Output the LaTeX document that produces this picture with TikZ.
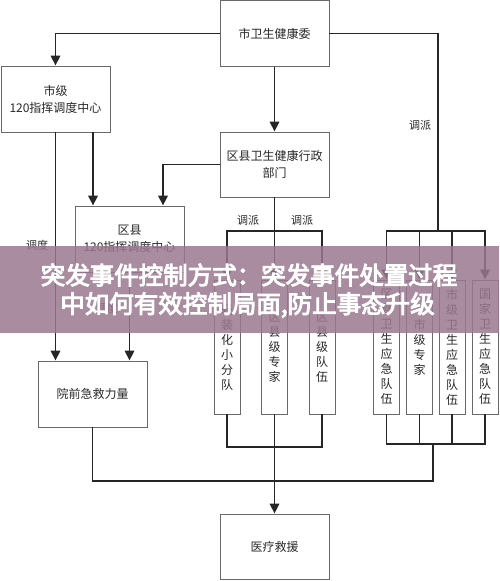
\documentclass[tikz,border=0pt]{standalone}
\usepackage{fontspec}
\newfontfamily\cjk{Noto Sans CJK SC}
\newfontfamily\cjkb{Noto Sans CJK SC}[FakeBold=4]
\usetikzlibrary{arrows.meta}
\definecolor{boxline}{RGB}{105,105,105}
\definecolor{txt}{RGB}{40,40,40}
\definecolor{banner}{RGB}{155,120,143}
\begin{document}
\begin{tikzpicture}[x=1pt,y=-1pt,
  box/.style={draw=boxline,line width=0.9pt,fill=white,inner sep=0pt,text=txt,
    font=\cjk\fontsize{12}{17}\selectfont,align=center,minimum width=109pt,minimum height=66pt},
  vbox/.style={box,minimum width=26pt,minimum height=134pt,font=\cjk\fontsize{12}{15}\selectfont},
  conn/.style={line width=1.7pt,draw=black!85},
  arr/.style={conn,-{Triangle[width=9.5pt,length=10pt]}},
  lbl/.style={text=txt,font=\cjk\fontsize{11}{13}\selectfont,inner sep=0pt},
  bantext/.style={text=white,font=\cjkb\fontsize{24.5}{26}\selectfont,inner sep=0pt}
]
\useasboundingbox (0,0) rectangle (499,581);
\fill[white] (0,0) rectangle (499,581);

% boxes
\node[box] (wj) at (274.5,33.5) {市卫生健康委};
\node[box] (shiji) at (55.5,99) {市级\\120指挥调度中心};
\node[box,minimum height=65pt] (qxwj) at (274.5,164.5) {区县卫生健康行政\\部门};
\node[box] (qx120) at (129.5,239) {区县\\120指挥调度中心};
\node[box] (yq) at (92.5,394) {院前急救力量};
\node[box,minimum height=65pt] (yl) at (274.5,546.5) {医疗救援};

\node[vbox] (l1) at (227,347) {轻\\装\\化\\小\\分\\队};
\node[vbox] (l2) at (274.5,347) {区\\县\\级\\专\\家};
\node[vbox] (l3) at (322,347) {区\\县\\级\\队\\伍};
\node[vbox] (r1) at (386.5,347) {区\\县\\卫\\生\\应\\急\\队\\伍};
\node[vbox] (r2) at (419.5,347) {市\\级\\专\\家};
\node[vbox] (r3) at (452,347) {市\\级\\卫\\生\\应\\急\\队\\伍};
\node[vbox] (r4) at (485,347) {国\\家\\卫\\生\\应\\急\\队\\伍};

% junction coordinates
\coordinate (rb) at (438,231);
\coordinate (lb) at (274.5,231);
\coordinate (lm) at (274.5,447);
\coordinate (rm) at (433,444);
\coordinate (bm) at (433,481);

% connectors top
\draw[arr] (wj.west) -| (shiji.north);
\draw[arr] (wj.south) -- (qxwj.north);
\draw[conn] (wj.east) -| (rb);
\draw[arr] (rb) -| (r1.north);
\draw[arr] (rb) -| (r2.north);
\draw[arr] (rb) -| (r3.north);
\draw[arr] (rb) -| (r4.north);
\draw[conn] (qxwj.south) -- (lb);
\draw[arr] (lb) -| (l1.north);
\draw[arr] (lb) -- (l2.north);
\draw[arr] (lb) -| (l3.north);
\draw[arr] (qxwj.west) -| ([xshift=33.5pt]qx120.north);
\draw[arr] ([xshift=37.5pt]shiji.south) -- ([xshift=37.5pt]shiji.south |- qx120.north);
\draw[arr] (shiji.south) -- (shiji.south |- yq.north);
\draw[arr] (qx120.south) -- (qx120.south |- yq.north);

% connectors bottom
\draw[conn] (l1.south) |- (lm);
\draw[conn] (l3.south) |- (lm);
\draw[conn] (r1.south) |- (rm);
\draw[conn] (r4.south) |- (rm);
\draw[conn] (r2.south) -- (r2.south |- rm);
\draw[conn] (r3.south) -- (r3.south |- rm);
\draw[conn] (rm) -- (bm) -- (bm -| yq.south) -- (yq.south);
\draw[arr] (l2.south) -- (yl.north);

% labels
\node[lbl] (d1) at (37,245) {调度};
\node[lbl] (d2) at (107,308) {调度};
\node[lbl] (p1) at (248,220) {调派};
\node[lbl] (p2) at (302,220) {调派};
\node[lbl] (p3) at (420,125) {调派};

% banner
\fill[banner,opacity=0.85] (0,246) rectangle (499,333);
\node[bantext] (t1) at (249,275) {突发事件控制方式：突发事件处置过程};
\node[bantext] (t2) at (247.5,305) {中如何有效控制局面,防止事态升级};
\end{tikzpicture}
\end{document}
